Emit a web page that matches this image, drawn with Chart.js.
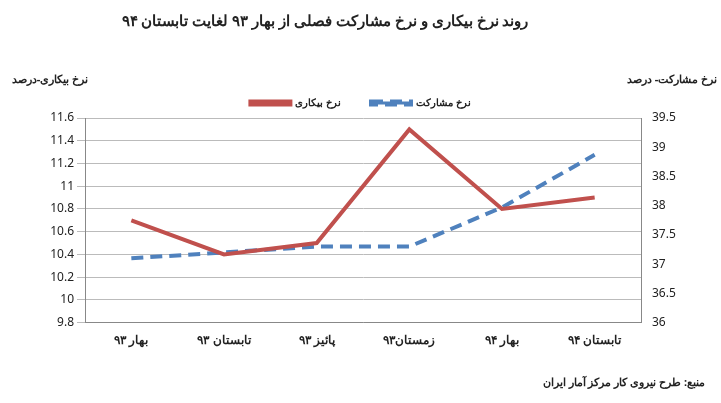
<!DOCTYPE html><html><head><meta charset="utf-8"><script src="https://cdn.jsdelivr.net/npm/chart.js@4"></script>
<style>body{margin:0;background:#fff}#w{width:721px;height:403px}</style></head><body><div id="w"><canvas id="c"></canvas></div>
<script>
const categories=['بهار ۹۳','تابستان ۹۳','پائیز ۹۳','زمستان۹۳','بهار ۹۴','تابستان ۹۴'];
const unemployment=[10.7,10.4,10.5,11.5,10.8,10.9];
const participation=[37.1,37.2,37.3,37.3,37.97,38.87];
const leftTicks=[9.8,11.6,0.2];
const rightTicks=[36,39.5,0.5];
const F='"Noto Sans", sans-serif';
const texts={id:'texts',afterDraw(ch){const c=ch.ctx;c.save();c.fillStyle='#222';
c.font='bold 15px '+F;c.textAlign='center';c.textBaseline='middle';c.direction='rtl';
c.fillText('روند نرخ بیکاری و نرخ مشارکت فصلی از بهار ۹۳ لغایت تابستان ۹۴',325,22);
c.font='bold 11px '+F;c.fillText('نرخ بیکاری-درصد',50,80);c.fillText('نرخ مشارکت- درصد',672,80);
c.textAlign='right';c.font='bold 11px '+F;c.fillText('منبع: طرح نیروی کار مرکز آمار ایران',705,383);c.restore();}};
new Chart(document.getElementById('c'),{type:'line',data:{labels:categories,datasets:[
{label:'نرخ بیکاری',data:unemployment,borderColor:'#c0504d',backgroundColor:'#c0504d',borderWidth:4,pointRadius:0,yAxisID:'y',tension:0},
{label:'نرخ مشارکت',data:participation,borderColor:'#4f81bd',backgroundColor:'#4f81bd',borderWidth:4,borderDash:[12,7],pointRadius:0,yAxisID:'y1',tension:0}]},
options:{responsive:true,maintainAspectRatio:false,animation:false,layout:{padding:{left:10,right:10,top:68,bottom:52}},
plugins:{tooltip:{enabled:false},legend:{position:'top',labels:{boxWidth:40,boxHeight:3,color:'#222',font:{family:F,size:10,weight:'bold'},padding:30}}},
scales:{x:{offset:true,grid:{display:false},border:{color:'#888'},ticks:{color:'#222',font:{family:F,size:12,weight:'bold'}}},
y:{position:'left',min:leftTicks[0],max:leftTicks[1],afterFit(s){s.width=75},ticks:{stepSize:leftTicks[2],color:'#222',font:{family:F,size:12},callback:v=>+v.toFixed(1)},grid:{color:'#bbb'},border:{color:'#888'}},
y1:{position:'right',min:rightTicks[0],max:rightTicks[1],afterFit(s){s.width=70},ticks:{stepSize:rightTicks[2],color:'#222',font:{family:F,size:12},callback:v=>+v.toFixed(1)},grid:{display:false},border:{color:'#888'}}}}
,plugins:[texts]});
</script></body></html>
